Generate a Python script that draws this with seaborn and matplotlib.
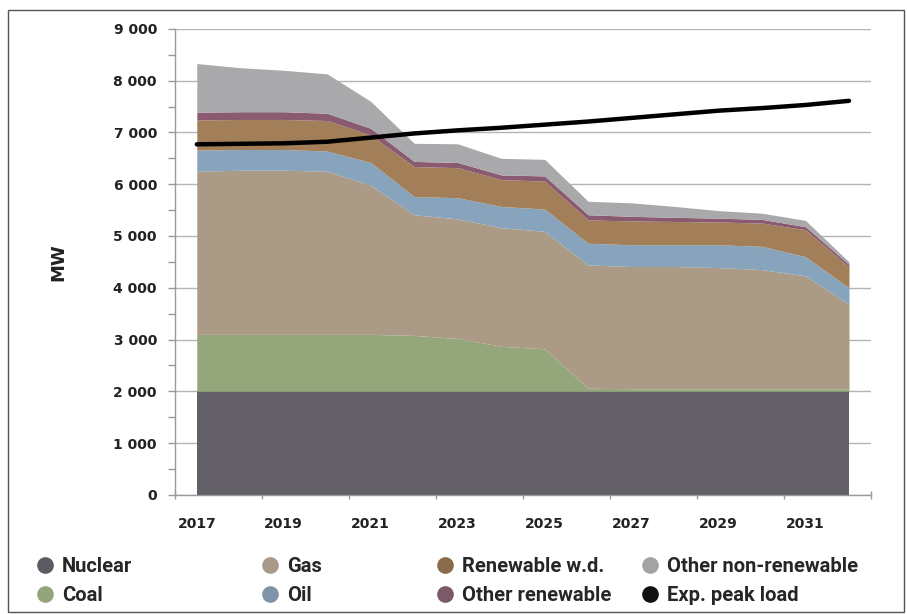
import matplotlib
matplotlib.use("Agg")
import matplotlib.pyplot as plt
from matplotlib.lines import Line2D
from matplotlib.patches import Rectangle
from matplotlib.ticker import FuncFormatter
import seaborn as sns
import pandas as pd

# =====================================================
# DATA (MW per year)
# =====================================================

years = [2017, 2018, 2019, 2020, 2021, 2022, 2023, 2024,
         2025, 2026, 2027, 2028, 2029, 2030, 2031, 2032]

nuclear = [2000, 2000, 2000, 2000, 2000, 2000, 2000, 2000,
           2000, 2000, 2000, 2000, 2000, 2000, 2000, 2000]
coal = [1100, 1100, 1100, 1100, 1100, 1080, 1020, 870,
        820, 60, 50, 50, 50, 50, 50, 50]
gas = [3150, 3170, 3170, 3150, 2880, 2330, 2310, 2290,
       2270, 2380, 2360, 2360, 2340, 2300, 2180, 1630]
oil = [410, 400, 400, 390, 440, 350, 410, 410,
       430, 420, 420, 420, 440, 450, 370, 320]
renewable_wd = [580, 580, 580, 590, 530, 580, 580, 520,
                540, 450, 460, 450, 440, 450, 520, 400]
other_renewable = [150, 150, 150, 140, 130, 100, 100, 90,
                   100, 100, 90, 80, 75, 70, 60, 50]
other_nonrenewable = [940, 850, 800, 760, 520, 350, 360, 320,
                      320, 260, 260, 210, 145, 120, 120, 50]
peak_load = [6770, 6780, 6790, 6820, 6900, 6980, 7040, 7090,
             7150, 7210, 7280, 7350, 7420, 7470, 7530, 7610]

labels = ["Nuclear", "Coal", "Gas", "Oil", "Renewable w.d.",
          "Other renewable", "Other non-renewable"]
area_colors = ["#636068", "#94a77b", "#ab9b86", "#88a4bd",
               "#a27f59", "#8a5b70", "#a9a8aa"]
legend_colors = ["#5d5b62", "#93a57a", "#a89a88", "#7f95a7",
                 "#8a6b4a", "#7d5868", "#a3a3a3", "#111111"]

# =====================================================
# STYLE
# =====================================================

sns.set_theme(style="white")
plt.rcParams["font.family"] = ["DejaVu Sans"]

fig = plt.figure(figsize=(9.07, 6.14), dpi=100)
ax = fig.add_axes([0.193, 0.194, 0.767, 0.759])

# =====================================================
# STACKED AREAS + PEAK LOAD LINE
# =====================================================

ax.stackplot(
    years,
    nuclear, coal, gas, oil, renewable_wd, other_renewable, other_nonrenewable,
    colors=area_colors,
    linewidth=0,
    zorder=2
)

df_load = pd.DataFrame({"year": years, "load": peak_load})

sns.lineplot(
    data=df_load,
    x="year",
    y="load",
    color="black",
    linewidth=3.2,
    ax=ax,
    zorder=3
)

# =====================================================
# AXES
# =====================================================

ax.set_xlim(2016.5, 2032.5)
ax.set_ylim(0, 9000)

ax.set_yticks(range(0, 9001, 1000))
ax.set_yticks(range(500, 9000, 1000), minor=True)
ax.yaxis.set_major_formatter(FuncFormatter(lambda v, p: f"{int(v):,}".replace(",", " ")))

ax.set_xticks(range(2017, 2032, 2))
ax.set_xticks([2016.5 + 2 * i for i in range(9)], minor=True)

ax.grid(axis="y", color="#b4b4b4", linewidth=1, zorder=0)
ax.set_axisbelow(True)

for side in ["top", "right"]:
    ax.spines[side].set_visible(False)
for side in ["left", "bottom"]:
    ax.spines[side].set_color("#9a9a9a")
    ax.spines[side].set_linewidth(1)

ax.tick_params(axis="y", which="both", left=True, length=5, width=1,
               color="#9a9a9a", direction="out", pad=8)
ax.tick_params(axis="x", which="major", bottom=False, pad=10)
ax.tick_params(axis="x", which="minor", bottom=True, length=6, width=1,
               color="#9a9a9a", direction="inout")

for lab in ax.get_xticklabels() + ax.get_yticklabels():
    lab.set_fontweight("bold")
    lab.set_fontsize(10)
    lab.set_color("#222222")

ax.set_xlabel("")
ax.set_ylabel("MW", fontsize=13, fontweight="bold", color="#222222")
ax.yaxis.set_label_coords(-0.155, 0.5)

# =====================================================
# LEGEND (one block per column)
# =====================================================

all_labels = labels + ["Exp. peak load"]
col_x = [37, 262, 437, 642]

for c in range(4):
    handles = []
    for r in range(2):
        i = c * 2 + r
        handles.append(Line2D([], [], linestyle="none", marker="o",
                              markersize=12, markerfacecolor=legend_colors[i],
                              markeredgewidth=0, label=all_labels[i]))
    fig.legend(
        handles=handles,
        loc="center left",
        bbox_to_anchor=(col_x[c] / 907, 0.053),
        frameon=False,
        borderpad=0,
        borderaxespad=0,
        handlelength=0.8,
        handletextpad=0.45,
        labelspacing=0.5,
        prop={"family": ["Roboto", "DejaVu Sans"], "weight": "bold", "size": 14.5}
    )

# figure border
fig.add_artist(Rectangle((0.009, 0.004), 0.988, 0.98, transform=fig.transFigure,
                         fill=False, edgecolor="#555555", linewidth=1))

plt.savefig("out.png", dpi=100)
plt.close()
